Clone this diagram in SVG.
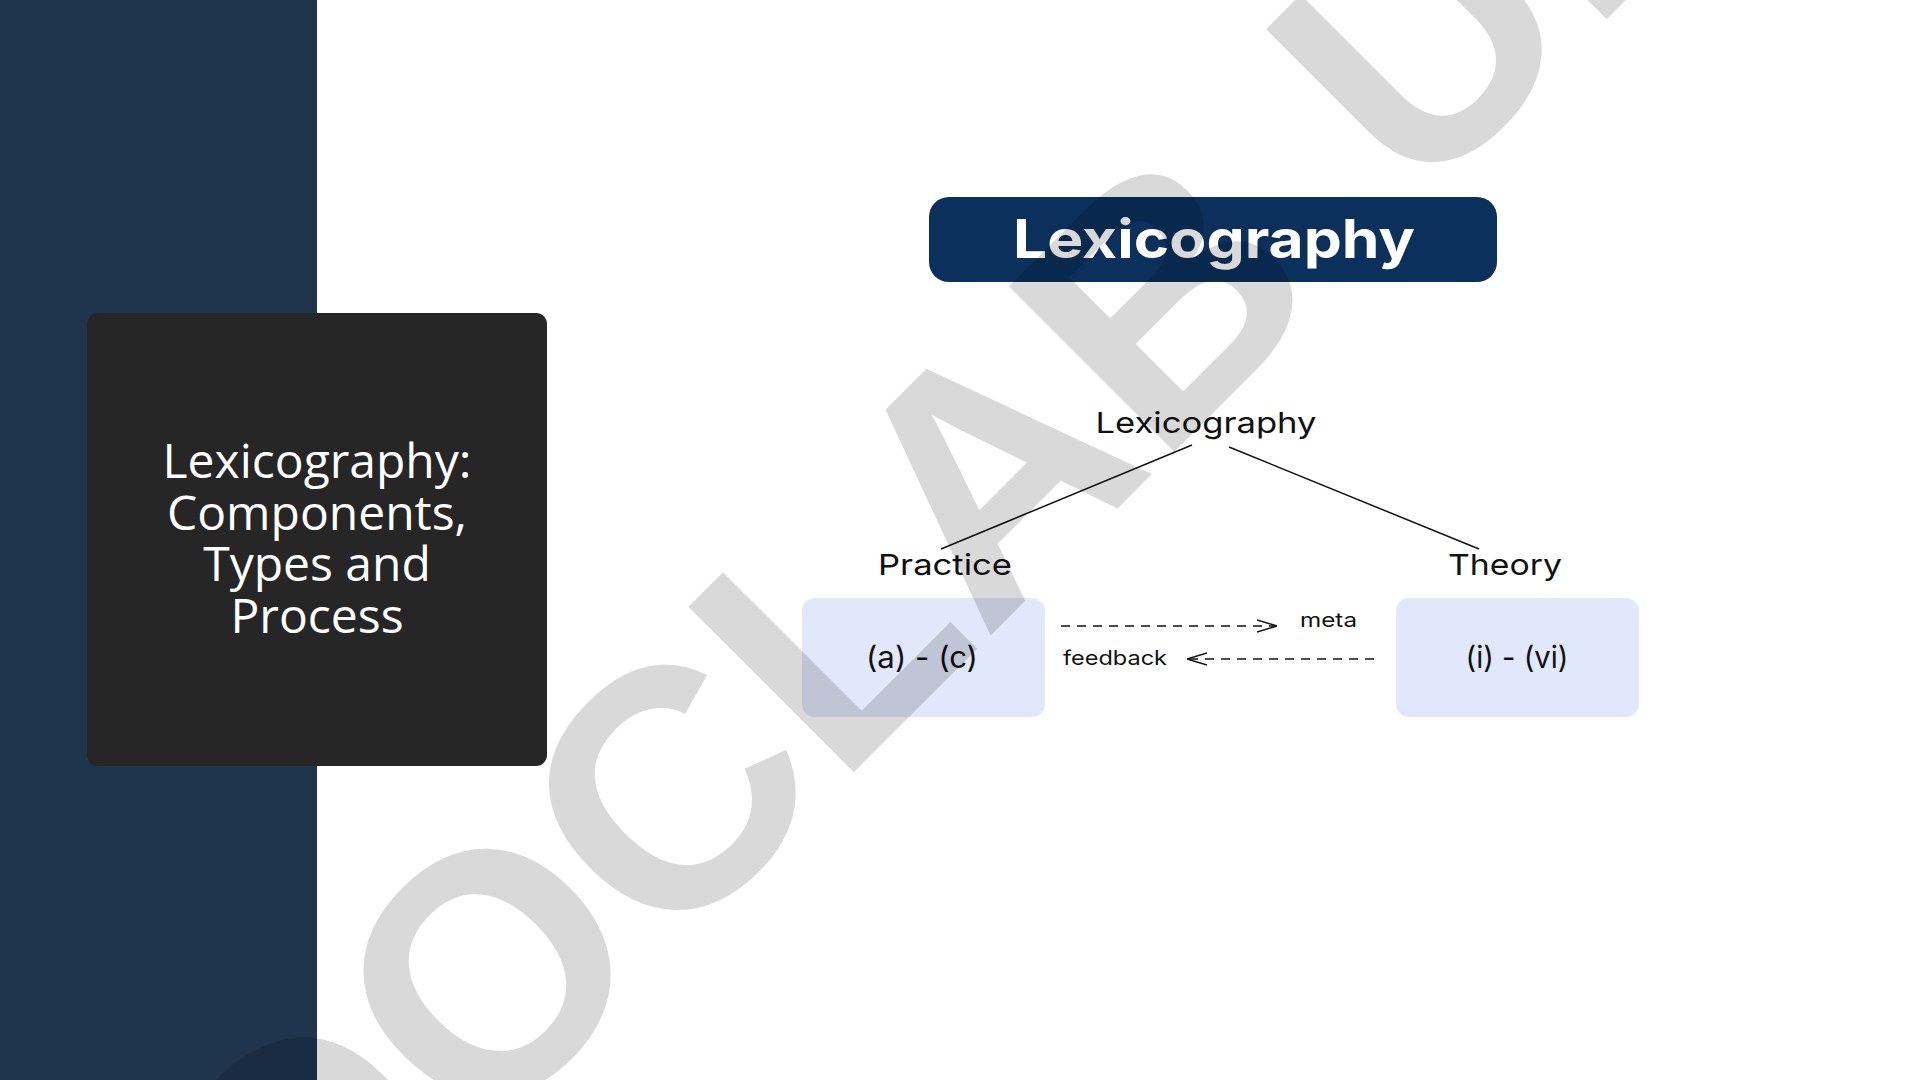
<svg xmlns="http://www.w3.org/2000/svg" width="1920" height="1080" viewBox="0 0 1920 1080">
<defs>
<style>
.lbl{font-family:Inter,"Liberation Sans",Arial,sans-serif;fill:#111;text-anchor:middle}
.mid{font-size:29px}
.box{fill:#e1e8fb}
.small{font-family:Inter,"Liberation Sans",Arial,sans-serif;fill:#111;font-size:20px}
.conn{stroke:#111;stroke-width:1.5;fill:none}
.dash{stroke-dasharray:9 7}
.title{font-family:"Open Sans","Noto Sans",sans-serif;font-size:48px;fill:#fff;text-anchor:middle}
.wm{font-family:"Liberation Sans",Arial,sans-serif;font-weight:700;font-size:340px;fill:#000;fill-opacity:0.15}
</style>
<marker id="chev" viewBox="0 0 20 14" refX="20" refY="7" markerWidth="20" markerHeight="14" markerUnits="userSpaceOnUse" orient="auto">
<path d="M0,1 L20,7 L0,13" fill="none" stroke="#111" stroke-width="1.5"/>
</marker>
</defs>
<rect width="1920" height="1080" fill="#fff"/>
<rect x="0" y="0" width="317" height="1080" fill="#1f344d"/>
<g id="title-card">
<rect x="87" y="313" width="460" height="453" rx="11" fill="#262626"/>
<text class="title"><tspan x="317" y="478">Lexicography:</tspan><tspan x="317" y="530">Components,</tspan><tspan x="317" y="581">Types and</tspan><tspan x="317" y="633">Process</tspan></text>
</g>
<g id="header">
<rect x="929" y="197" width="568" height="85" rx="20" fill="#0b305b"/>
<text x="1214" y="258" font-family="Inter,'Liberation Sans',Arial,sans-serif" font-weight="700" font-size="54" fill="#fff" text-anchor="middle" textLength="402" lengthAdjust="spacingAndGlyphs">Lexicography</text>
</g>
<g id="connectors">
<line class="conn" x1="1192" y1="445" x2="941" y2="549"/>
<line class="conn" x1="1229" y1="447" x2="1479" y2="549"/>
<line class="conn dash" x1="1061" y1="626" x2="1277" y2="626" marker-end="url(#chev)"/>
<line class="conn dash" x1="1374" y1="659" x2="1187" y2="659" marker-end="url(#chev)"/>
</g>
<g id="root"><text class="lbl mid" x="1206" y="433" textLength="221" lengthAdjust="spacingAndGlyphs">Lexicography</text></g>
<g id="practice"><text class="lbl mid" x="945" y="575" textLength="134" lengthAdjust="spacingAndGlyphs">Practice</text></g>
<g id="theory"><text class="lbl mid" x="1505" y="575" textLength="114" lengthAdjust="spacingAndGlyphs">Theory</text></g>
<g id="practice-items">
<rect class="box" x="802" y="598" width="243" height="119" rx="13"/>
<text class="lbl" x="922" y="668" font-size="30" textLength="112" lengthAdjust="spacingAndGlyphs">(a) - (c)</text>
</g>
<g id="theory-items">
<rect class="box" x="1396" y="598" width="243" height="119" rx="13"/>
<text class="lbl" x="1517" y="668" font-size="30" textLength="103" lengthAdjust="spacingAndGlyphs">(i) - (vi)</text>
</g>
<g id="edge-labels">
<text class="small" x="1300" y="627" textLength="57" lengthAdjust="spacingAndGlyphs">meta</text>
<text class="small" x="1063" y="665" textLength="104" lengthAdjust="spacingAndGlyphs">feedback</text>
</g>
<g id="watermark">
<text class="wm" transform="translate(303.5,1322.5) rotate(-45)" x="0" y="0">DOCLAB <tspan dx="26">UN</tspan></text>
</g>
</svg>
